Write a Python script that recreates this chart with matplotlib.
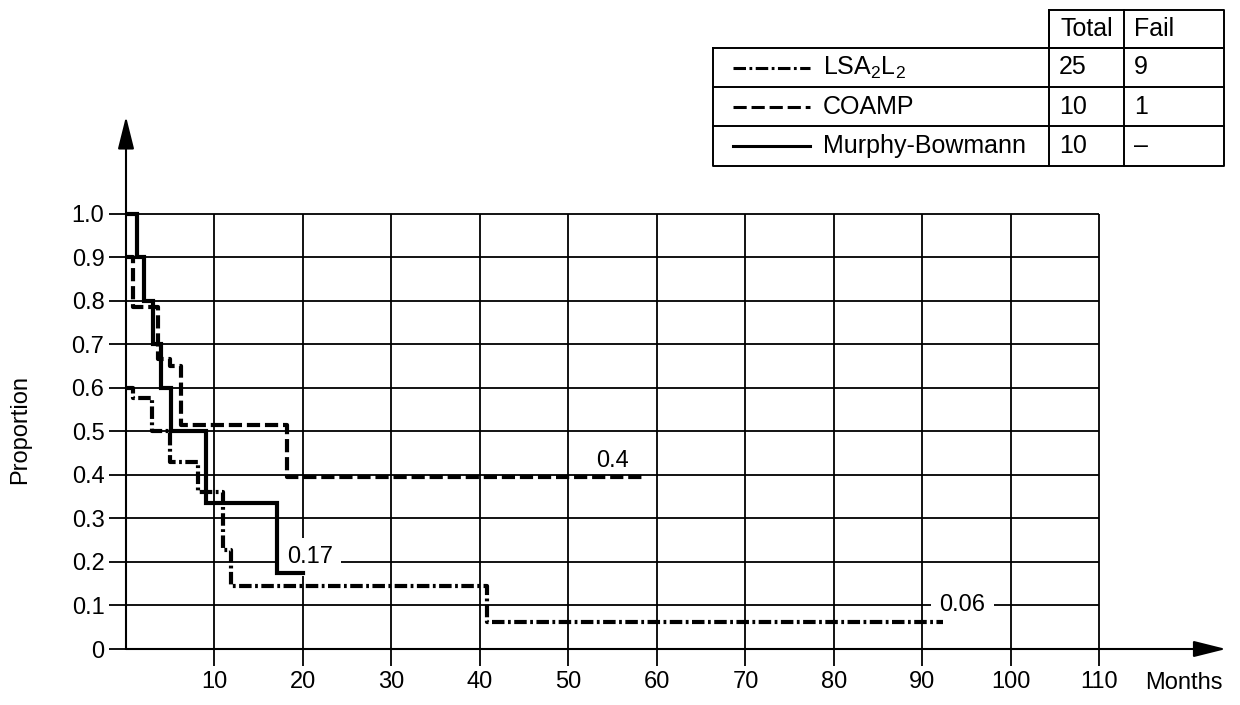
import numpy as np
import matplotlib
matplotlib.use("Agg")
import matplotlib.pyplot as plt

plt.rcParams['font.family'] = ['Liberation Sans', 'DejaVu Sans']
plt.rcParams['mathtext.fontset'] = 'custom'
plt.rcParams['mathtext.rm'] = 'Liberation Sans'
plt.rcParams['mathtext.it'] = 'Liberation Sans'
plt.rcParams['lines.scale_dashes'] = False

# survival curves (months, proportion), step after each time
lsa_t = [0, 0.8, 2.9, 5.0, 8.1, 11.0, 11.9, 40.8]
lsa_s = [0.6, 0.577, 0.5, 0.43, 0.36, 0.227, 0.145, 0.062]
lsa_end = 92.3

coamp_t = [0, 0.8, 3.6, 5.0, 6.2, 18.2]
coamp_s = [0.9, 0.786, 0.667, 0.65, 0.515, 0.395]
coamp_end = 58.6

mb_t = [0, 1.2, 2.0, 3.1, 4.0, 5.1, 9.0, 17.1]
mb_s = [1.0, 0.9, 0.8, 0.7, 0.6, 0.5, 0.336, 0.175]
mb_end = 20.0

x_ticks = list(range(10, 120, 10))
y_ticks = [round(0.1 * i, 1) for i in range(11)]
y_labels = ['0'] + ['%.1f' % v for v in y_ticks[1:]]

groups = ['LSA$_2$L$_2$', 'COAMP', 'Murphy-Bowmann']
totals = ['25', '10', '10']
fails = ['9', '1', '\u2013']

dashdot = (0, (9, 2.5, 2, 2.5))
dashed = (0, (9.5, 3.5))
styles = [dashdot, dashed, '-']

FS = 17
TFS = 18

fig = plt.figure(figsize=(12.4, 7.05), dpi=100)
ax = fig.add_axes([126 / 1240, 56 / 705, 1101.8 / 1240, 533 / 705])
ax.set_xlim(0, 124.5)
ax.set_ylim(0, 1.225)
for s in ax.spines.values():
    s.set_visible(False)

# grid
ax.hlines(y_ticks[1:], 0, 110, color='black', lw=1.3, zorder=1)
ax.vlines(x_ticks, 0, 1.0, color='black', lw=1.3, zorder=1)

ax.set_xticks(x_ticks)
ax.set_xticklabels([str(v) for v in x_ticks])
ax.set_yticks(y_ticks)
ax.set_yticklabels(y_labels)
ax.tick_params(length=12.5, width=1.3, direction='out', labelsize=FS, pad=3)

# axes with arrows
arr = dict(arrowstyle='-|>,head_length=1.0,head_width=0.25', mutation_scale=20,
           lw=1.5, color='black', shrinkA=0, shrinkB=0)
ax.annotate('', xy=(124.3, 0), xytext=(0, 0), arrowprops=arr, annotation_clip=False)
ax.annotate('', xy=(0, 1.224), xytext=(0, 0), arrowprops=arr, annotation_clip=False)

def km(t, s, end, ls, z):
    xs = np.append(t, end)
    ys = np.append(s, s[-1])
    ax.step(xs, ys, where='post', color='black', lw=3, linestyle=ls,
            solid_joinstyle='miter', zorder=z)

km(lsa_t, lsa_s, lsa_end, dashdot, 3)
km(coamp_t, coamp_s, coamp_end, dashed, 4)
km(mb_t, mb_s, mb_end, '-', 5)

box = dict(facecolor='white', edgecolor='none', pad=6)
ax.text(55, 0.432, '0.4', fontsize=FS, ha='center', va='center')
ax.text(20.8, 0.211, '0.17', fontsize=FS, ha='center', va='center', bbox=box, zorder=2)
ax.text(94.5, 0.10, '0.06', fontsize=FS, ha='center', va='center', bbox=box, zorder=2)

ax.text(119.5, -0.078, 'Months', fontsize=FS, ha='center', va='center', clip_on=False)
fig.text(20 / 1240, 1 - 430 / 705, 'Proportion', fontsize=FS, rotation=90,
         ha='center', va='center')

# legend table drawn in pixel coordinates
tb = fig.add_axes([0, 0, 1, 1], zorder=10)
tb.set_xlim(0, 1240)
tb.set_ylim(705, 0)
tb.axis('off')
L, D1, D2, R = 713, 1049, 1124, 1224
rows_y = [10, 48, 87, 126, 166]
k = dict(color='black', lw=1.4)
tb.plot([D1, R, R, D1, D1], [rows_y[0], rows_y[0], rows_y[1], rows_y[1], rows_y[0]], **k)
tb.plot([L, R, R, L, L], [rows_y[1], rows_y[1], rows_y[4], rows_y[4], rows_y[1]], **k)
for y in rows_y[2:4]:
    tb.plot([L, R], [y, y], **k)
tb.plot([D1, D1], [rows_y[0], rows_y[4]], **k)
tb.plot([D2, D2], [rows_y[0], rows_y[4]], **k)
tb.text((D1 + D2) / 2, (rows_y[0] + rows_y[1]) / 2, 'Total', fontsize=TFS, ha='center', va='center')
tb.text(D2 + 10, (rows_y[0] + rows_y[1]) / 2, 'Fail', fontsize=TFS, ha='left', va='center')
for i in range(3):
    yc = (rows_y[i + 1] + rows_y[i + 2]) / 2
    tb.plot([733, 810], [yc, yc], color='black', lw=2.2, linestyle=styles[i])
    tb.text(823, yc, groups[i], fontsize=TFS, ha='left', va='center')
    tb.text(D1 + 10, yc, totals[i], fontsize=TFS, ha='left', va='center')
    tb.text(D2 + 10, yc, fails[i], fontsize=TFS, ha='left', va='center')

fig.savefig('out.png', dpi=100)
